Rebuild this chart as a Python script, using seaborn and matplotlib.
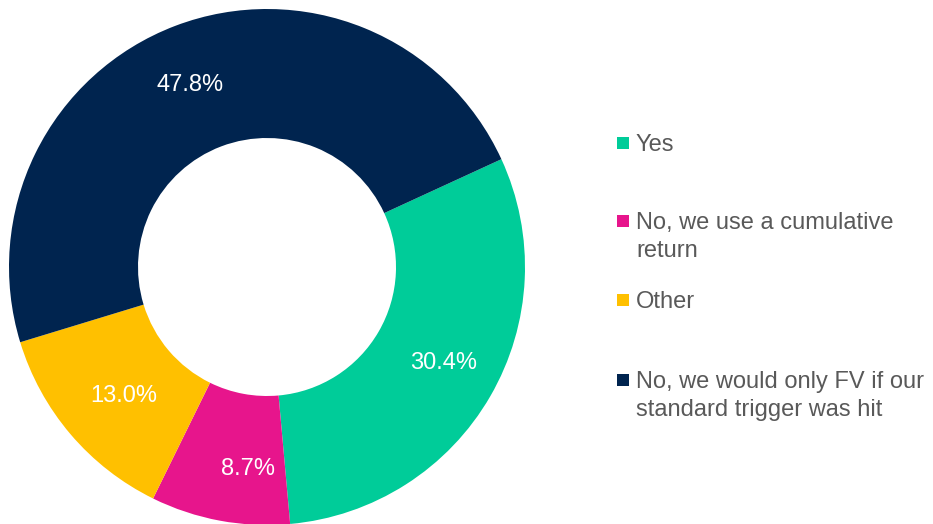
import matplotlib
matplotlib.use("Agg")
import matplotlib.pyplot as plt
from matplotlib.patches import Rectangle
import seaborn as sns

# Survey responses (share of respondents, %)
categories = [
    "Yes",
    "No, we use a cumulative\nreturn",
    "Other",
    "No, we would only FV if our\nstandard trigger was hit",
]
shares = [30.4, 8.7, 13.0, 47.8]
colors = ["#00CC99", "#E7158C", "#FFC000", "#00244F"]

sns.set_style("white")
plt.rcParams["font.family"] = ["Liberation Sans", "DejaVu Sans"]

W, H = 933, 524
fig = plt.figure(figsize=(W / 100, H / 100), dpi=100)

# Donut occupies the left part of the figure
cx, cy, r = 267, 267, 258
ax = fig.add_axes([(cx - r) / W, (H - cy - r) / H, 2 * r / W, 2 * r / H])
wedges, _, autotexts = ax.pie(
    shares,
    colors=colors,
    startangle=24.7,
    counterclock=False,
    radius=1.0,
    wedgeprops=dict(width=0.5, linewidth=0),
    autopct=lambda p: f"{p:.1f}%",
    pctdistance=0.77,
    textprops=dict(color="white", fontsize=17),
)
ax.set_xlim(-1, 1)
ax.set_ylim(-1, 1)
ax.set_aspect("equal")
ax.axis("off")

# Small per-label nudges (pixels) so the value labels sit nicely inside the ring
nudges_px = [(5, 4), (17, -7), (8, 0), (-6, -4)]
for t, (dx, dy) in zip(autotexts, nudges_px):
    x, y = t.get_position()
    t.set_position((x + dx / r, y + dy / r))

# Legend drawn to the right of the donut
legend_first_line = [143, 221, 300, 380]
line_gap = 28
box = 12
for label, col, yc in zip(categories, colors, legend_first_line):
    fig.add_artist(Rectangle(((617) / W, (H - yc - box / 2) / H), box / W, box / H,
                             transform=fig.transFigure, facecolor=col, edgecolor="none"))
    for i, line in enumerate(label.split("\n")):
        fig.text(636 / W, (H - (yc + 8 + i * line_gap)) / H, line,
                 ha="left", va="baseline", fontsize=17, color="#595959")

fig.savefig("out.png", dpi=100)
